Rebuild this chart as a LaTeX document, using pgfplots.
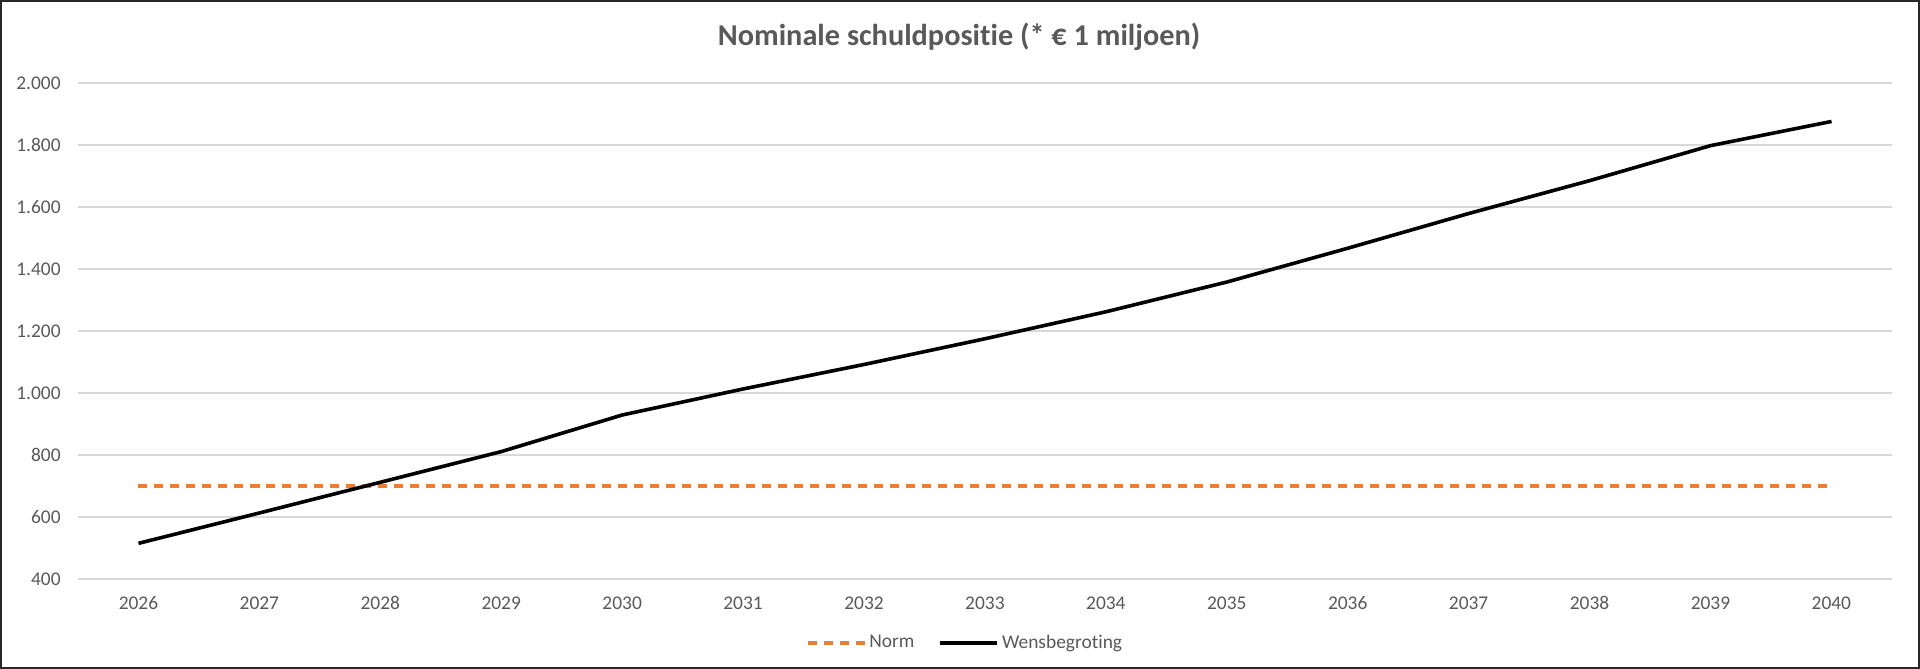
\documentclass[border=0pt]{standalone}
\usepackage{fontspec}
\setmainfont{Carlito}[Ligatures={NoCommon}]
\usepackage{pgfplots}
\pgfplotsset{compat=1.18}
\definecolor{tickgray}{HTML}{595959}
\definecolor{gridgray}{HTML}{D9D9D9}
\definecolor{normorange}{HTML}{ED7D31}
\begin{document}
\begin{tikzpicture}
\useasboundingbox (0,0) rectangle (960bp,334.5bp);
\begin{axis}[
 at={(39bp,45bp)}, anchor=south west,
 scale only axis, width=907bp, height=248bp,
 xmin=2025.5, xmax=2040.5, ymin=400, ymax=2000,
 xtick={2026,...,2040}, ytick={400,600,...,2000},
 axis line style={draw=none},
 major tick length=0pt,
 ymajorgrids, grid style={gridgray, line width=0.75bp},
 /pgf/number format/assume math mode=true,
 ticklabel style={font=\fontsize{9.75}{11}\selectfont, text=tickgray},
 xticklabel style={/pgf/number format/1000 sep={}, anchor=center, yshift=-12bp},
 yticklabel style={/pgf/number format/1000 sep={.}, anchor=east, inner sep=0pt, xshift=-8.5bp},
 title={Nominale schuldpositie (* € 1 miljoen)},
 title style={font=\bfseries\fontsize{15.2}{18}\selectfont, text=tickgray, at={(0.4857,1)}, anchor=center, yshift=17bp},
 legend style={at={(0.4893,-0.129)}, anchor=center, draw=none, legend columns=2,
   font=\fontsize{9.75}{11}\selectfont, text=tickgray,
   nodes={inner sep=1.5bp},
   /tikz/every even column/.append style={column sep=10.5bp}},
 legend cell align=left,
 legend image code/.code={\draw[#1] (0bp,0bp) -- (28.5bp,0bp);},
]
\addplot[normorange, line width=1.6bp, dash pattern=on 4.5bp off 3.5bp, mark=none] coordinates {
(2026,700)(2027,700)(2028,700)(2029,700)(2030,700)(2031,700)(2032,700)(2033,700)
(2034,700)(2035,700)(2036,700)(2037,700)(2038,700)(2039,700)(2040,700)};
\addlegendentry{Norm}
\addplot[black, line width=1.8bp, mark=none] coordinates {
(2026,515)(2027,613)(2028,712)(2029,811)(2030,929)(2031,1013)(2032,1092)(2033,1175)
(2034,1262)(2035,1358)(2036,1467)(2037,1579)(2038,1685)(2039,1798)(2040,1876)};
\addlegendentry{Wensbegroting}
\end{axis}
\draw[line width=1.25bp, black!85] (0.625bp,0.625bp) rectangle (959.375bp,333.875bp);
\end{tikzpicture}
\end{document}
